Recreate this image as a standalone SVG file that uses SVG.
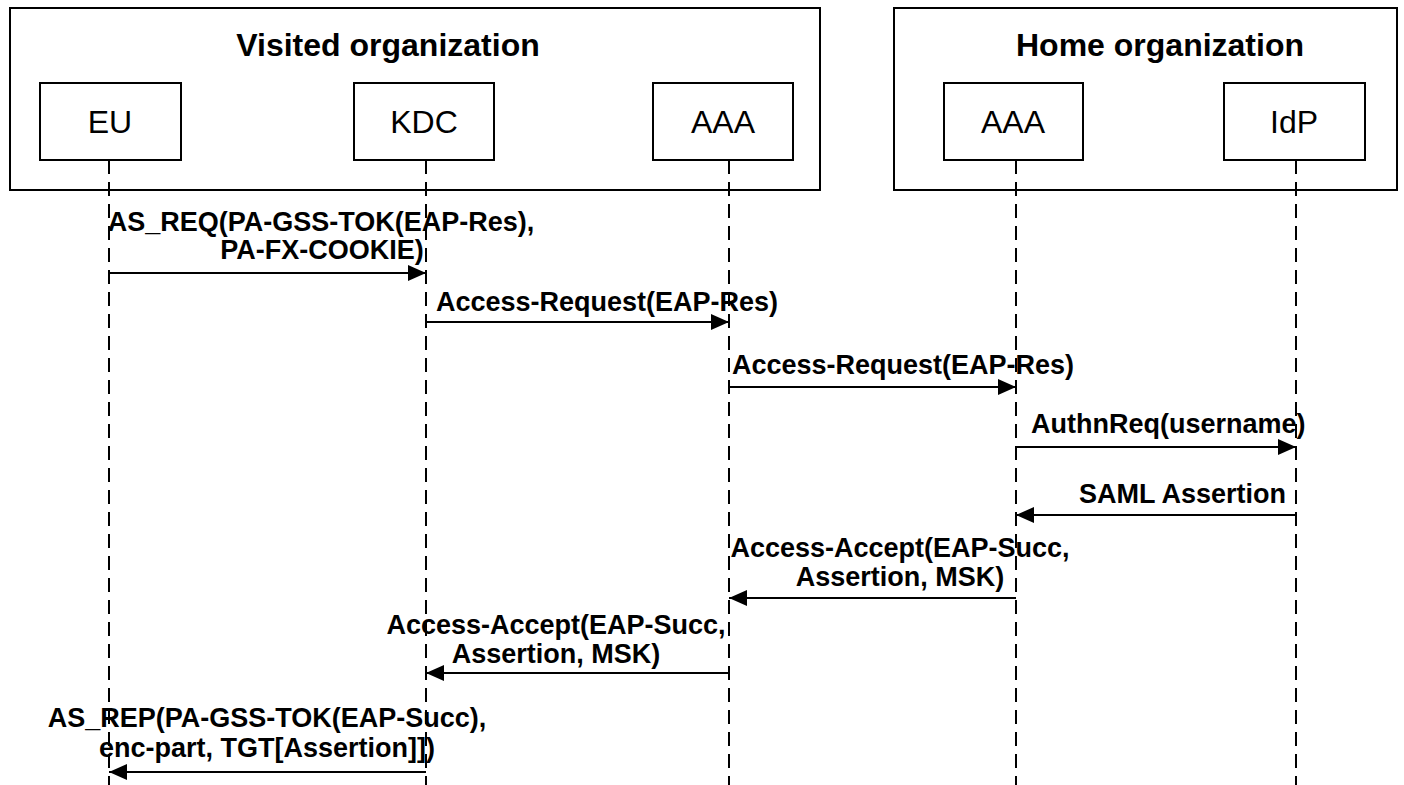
<svg xmlns="http://www.w3.org/2000/svg" width="1404" height="785" viewBox="0 0 1404 785">
<style>
.org{fill:#fff;stroke:#000;stroke-width:2}
.node{fill:#fff;stroke:#000;stroke-width:2}
.title{font-family:"Liberation Sans",Arial,sans-serif;font-weight:bold;font-size:32px;fill:#000}
.lbl{font-family:"Liberation Sans",Arial,sans-serif;font-size:32px;fill:#000;text-anchor:middle}
.msg{font-family:"Liberation Sans",Arial,sans-serif;font-weight:bold;font-size:27px;fill:#000}
.life{stroke:#000;stroke-width:2;stroke-dasharray:14 8;fill:none}
.arr{stroke:#000;stroke-width:2;fill:none;marker-end:url(#ah)}
</style>
<defs>
<marker id="ah" markerWidth="18" markerHeight="16" refX="18" refY="8" orient="auto" markerUnits="userSpaceOnUse">
<path d="M0,0 L18,8 L0,16 Z" fill="#000"/>
</marker>
</defs>
<rect width="1404" height="785" fill="#fff"/>
<g id="visited-org">
<rect class="org" x="10" y="8" width="810" height="182"/>
<text class="title" x="388" y="56" text-anchor="middle">Visited organization</text>
</g>
<g id="home-org">
<rect class="org" x="894" y="8" width="503" height="182"/>
<text class="title" x="1160" y="56" text-anchor="middle">Home organization</text>
</g>
<g id="lifelines">
<line class="life" x1="109" y1="160" x2="109" y2="785"/>
<line class="life" x1="426" y1="160" x2="426" y2="785"/>
<line class="life" x1="729" y1="160" x2="729" y2="785"/>
<line class="life" x1="1016" y1="160" x2="1016" y2="785"/>
<line class="life" x1="1296" y1="160" x2="1296" y2="785"/>
</g>
<g id="eu">
<rect class="node" x="40" y="83" width="141" height="77"/>
<text class="lbl" x="110" y="133">EU</text>
</g>
<g id="kdc">
<rect class="node" x="354" y="83" width="140" height="77"/>
<text class="lbl" x="424" y="133">KDC</text>
</g>
<g id="aaa-visited">
<rect class="node" x="653" y="83" width="140" height="77"/>
<text class="lbl" x="723" y="133">AAA</text>
</g>
<g id="aaa-home">
<rect class="node" x="944" y="83" width="139" height="77"/>
<text class="lbl" x="1013" y="133">AAA</text>
</g>
<g id="idp">
<rect class="node" x="1224" y="83" width="141" height="77"/>
<text class="lbl" x="1294" y="133">IdP</text>
</g>
<g id="connectors">
<line class="arr" x1="109" y1="273" x2="426" y2="273"/>
<line class="arr" x1="426" y1="322" x2="729" y2="322"/>
<line class="arr" x1="729" y1="387" x2="1016" y2="387"/>
<line class="arr" x1="1016" y1="447" x2="1296" y2="447"/>
<line class="arr" x1="1296" y1="515" x2="1016" y2="515"/>
<line class="arr" x1="1016" y1="598" x2="729" y2="598"/>
<line class="arr" x1="729" y1="673" x2="426" y2="673"/>
<line class="arr" x1="426" y1="772" x2="109" y2="772"/>
</g>
<g id="labels">
<text class="msg" x="321" y="231" text-anchor="middle">AS_REQ(PA-GSS-TOK(EAP-Res),</text>
<text class="msg" x="322" y="259" text-anchor="middle">PA-FX-COOKIE)</text>
<text class="msg" x="436" y="311">Access-Request(EAP-Res)</text>
<text class="msg" x="732" y="374">Access-Request(EAP-Res)</text>
<text class="msg" x="1031" y="433">AuthnReq(username)</text>
<text class="msg" x="1286" y="503" text-anchor="end">SAML Assertion</text>
<text class="msg" x="900" y="557" text-anchor="middle">Access-Accept(EAP-Succ,</text>
<text class="msg" x="900" y="586" text-anchor="middle">Assertion, MSK)</text>
<text class="msg" x="556" y="634" text-anchor="middle">Access-Accept(EAP-Succ,</text>
<text class="msg" x="556" y="663" text-anchor="middle">Assertion, MSK)</text>
<text class="msg" x="267" y="727" text-anchor="middle">AS_REP(PA-GSS-TOK(EAP-Succ),</text>
<text class="msg" x="267" y="757" text-anchor="middle">enc-part, TGT[Assertion]])</text>
</g>
</svg>
